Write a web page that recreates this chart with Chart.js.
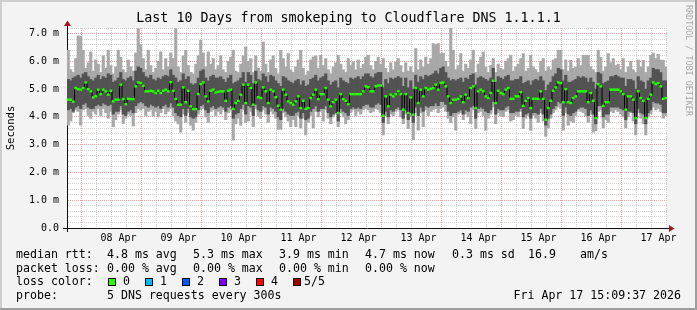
<!DOCTYPE html>
<html><head><meta charset="utf-8">
<script src="https://cdn.jsdelivr.net/npm/chart.js@4/dist/chart.umd.min.js"></script>
<style>html,body{margin:0;padding:0;background:#f3f3f3;overflow:hidden}canvas{display:block}</style>
</head><body>
<canvas id="c" width="697" height="310"></canvas>
<script>
const FONT = "'DejaVu Sans Mono', monospace";
const HOURS = 240;            // 10 days, one step per hour
const FIRST_MIDNIGHT = 8.6;   // hours from left edge to 08 Apr 00:00
const Y_MAX = 7.2;

const titleText = 'Last 10 Days from smokeping to Cloudflare DNS 1.1.1.1';
const dayLabels = ['08 Apr','09 Apr','10 Apr','11 Apr','12 Apr','13 Apr','14 Apr','15 Apr','16 Apr','17 Apr'];
const yLabels = ['0.0','1.0 m','2.0 m','3.0 m','4.0 m','5.0 m','6.0 m','7.0 m'];

const median = [
4.62,4.62,4.55,5.04,5.00,4.98,5.04,5.24,5.00,4.92,
4.70,4.75,4.98,4.82,4.98,4.92,4.80,4.94,4.56,4.62,
4.62,5.16,4.64,4.46,4.65,4.64,4.64,5.10,5.24,5.22,
5.12,4.92,4.92,4.94,4.92,4.86,4.94,4.86,4.94,4.98,
4.92,5.25,4.94,4.65,4.44,4.44,5.06,4.53,4.94,4.38,
4.28,4.28,4.82,5.18,5.24,4.74,4.56,4.94,4.98,4.88,
4.90,4.92,4.92,4.58,4.94,4.98,4.29,4.50,4.58,4.80,
5.16,4.50,5.16,5.04,4.44,5.24,4.71,4.68,5.06,4.92,
4.50,4.98,4.92,4.71,4.40,4.26,4.98,4.80,4.56,4.50,
4.44,4.56,4.74,4.32,4.58,4.29,4.32,4.68,4.80,4.98,
4.64,4.82,4.82,5.04,4.62,4.38,4.53,4.62,4.14,4.82,
4.64,4.58,4.46,4.82,4.82,4.82,4.82,4.82,4.92,5.10,
5.07,4.92,4.92,5.10,5.13,5.13,4.04,4.74,4.38,4.80,
4.74,4.82,4.92,4.82,4.26,4.82,4.14,4.70,4.08,5.04,
4.50,4.98,4.74,5.04,4.98,5.01,5.04,5.16,4.98,5.22,
5.24,5.10,4.74,4.50,4.62,4.62,4.65,4.74,4.53,4.80,
4.68,5.04,5.10,4.32,4.92,4.98,4.92,4.74,4.68,4.86,
5.30,4.50,4.94,4.86,4.82,4.98,5.04,4.65,4.65,4.74,
4.74,4.89,4.40,4.58,4.68,4.32,4.65,4.65,4.65,4.92,
4.65,3.90,4.32,4.58,4.94,5.06,5.24,5.22,4.53,5.00,
4.53,4.50,4.68,4.74,4.92,4.92,4.92,4.92,4.53,4.86,
4.58,3.96,5.18,5.10,4.40,4.53,4.53,4.98,4.98,4.98,
4.98,4.92,4.82,4.26,4.74,4.74,4.62,3.96,4.92,4.68,
4.58,3.96,4.65,4.80,5.24,5.18,5.22,5.10,4.65,4.68];

const ping4 = [
5.35,5.30,5.40,5.45,5.50,5.40,5.55,5.60,5.45,5.35,
5.30,5.40,5.50,5.35,5.45,5.40,5.55,5.50,5.25,5.30,
5.40,5.60,5.35,5.30,5.40,5.45,5.30,5.65,5.80,5.75,
5.60,5.45,5.40,5.50,5.35,5.30,5.40,5.35,5.45,5.50,
5.45,5.70,5.50,5.40,5.25,5.30,5.55,5.35,5.45,5.20,
5.15,5.20,5.40,5.65,5.70,5.40,5.30,5.45,5.50,5.40,
5.40,5.45,5.35,5.25,5.40,5.50,5.20,5.25,5.30,5.40,
5.60,5.25,5.60,5.50,5.20,5.65,5.35,5.30,5.55,5.45,
5.25,5.50,5.45,5.30,5.20,5.10,5.45,5.40,5.30,5.25,
5.20,5.30,5.35,5.15,5.30,5.10,5.15,5.35,5.40,5.50,
5.30,5.40,5.45,5.55,5.30,5.15,5.25,5.30,5.05,5.40,
5.30,5.25,5.20,5.40,5.35,5.40,5.45,5.35,5.45,5.55,
5.55,5.45,5.40,5.55,5.60,5.60,5.05,5.35,5.20,5.40,
5.35,5.40,5.45,5.40,5.10,5.40,5.05,5.30,5.00,5.50,
5.25,5.45,5.35,5.50,5.45,5.50,5.55,5.65,5.55,5.75,
5.80,5.60,5.40,5.30,5.35,5.30,5.35,5.40,5.25,5.40,
5.35,5.50,5.55,5.15,5.40,5.45,5.40,5.35,5.30,5.40,
5.75,5.25,5.45,5.40,5.35,5.45,5.50,5.30,5.30,5.35,
5.35,5.45,5.20,5.25,5.30,5.15,5.30,5.35,5.30,5.45,
5.30,4.95,5.15,5.25,5.45,5.55,5.75,5.70,5.30,5.50,
5.25,5.25,5.30,5.35,5.45,5.40,5.45,5.40,5.25,5.40,
5.25,5.00,5.60,5.55,5.20,5.25,5.30,5.45,5.45,5.50,
5.45,5.40,5.40,5.10,5.35,5.35,5.30,5.00,5.45,5.30,
5.25,5.00,5.30,5.40,5.75,5.70,5.70,5.60,5.30,5.30];

const ping2 = [
4.25,4.30,4.20,4.35,4.40,4.30,4.45,4.50,4.35,4.30,
4.30,4.40,4.45,4.40,4.50,4.45,4.40,4.45,4.10,4.20,
4.20,4.40,4.10,4.05,4.20,4.25,4.15,4.40,4.50,4.55,
4.50,4.40,4.35,4.45,4.40,4.35,4.40,4.30,4.40,4.45,
4.35,4.50,4.35,4.15,4.05,4.00,4.30,4.05,4.30,4.00,
3.95,4.00,4.25,4.40,4.45,4.25,4.15,4.35,4.40,4.30,
4.35,4.40,4.35,4.20,4.35,4.40,3.95,4.10,4.15,4.30,
4.45,4.10,4.40,4.35,4.05,4.45,4.25,4.20,4.40,4.35,
4.10,4.35,4.30,4.20,4.00,3.90,4.30,4.20,4.10,4.05,
4.05,4.15,4.20,3.95,4.15,3.90,3.95,4.20,4.30,4.40,
4.20,4.30,4.30,4.40,4.15,4.00,4.10,4.15,3.85,4.30,
4.20,4.15,4.05,4.30,4.35,4.30,4.35,4.30,4.40,4.45,
4.45,4.35,4.35,4.45,4.50,4.45,3.80,4.20,4.00,4.25,
4.20,4.30,4.35,4.25,3.95,4.25,3.90,4.15,3.80,4.35,
4.05,4.35,4.20,4.40,4.35,4.40,4.40,4.50,4.40,4.55,
4.55,4.45,4.20,4.05,4.15,4.15,4.20,4.25,4.10,4.25,
4.20,4.35,4.40,3.95,4.30,4.35,4.30,4.20,4.15,4.25,
4.55,4.10,4.30,4.25,4.25,4.35,4.40,4.15,4.15,4.20,
4.20,4.30,4.00,4.10,4.15,3.95,4.15,4.15,4.10,4.30,
4.10,3.70,3.95,4.10,4.30,4.40,4.55,4.50,4.05,4.35,
4.10,4.05,4.15,4.20,4.30,4.35,4.35,4.30,4.05,4.25,
4.10,3.75,4.40,4.40,4.00,4.10,4.10,4.35,4.35,4.35,
4.35,4.30,4.25,3.90,4.20,4.20,4.15,3.75,4.30,4.15,
4.10,3.75,4.15,4.25,4.55,4.50,4.50,4.45,4.15,4.15];

const pingMax = [
6.40,5.70,5.60,6.10,6.92,6.90,6.40,5.75,5.95,6.34,
5.65,6.05,5.90,5.60,6.20,5.75,6.40,5.85,5.55,5.80,
6.40,6.15,5.70,5.60,6.05,5.80,5.65,6.30,7.18,6.60,
6.10,5.70,6.40,5.85,5.60,5.75,6.00,6.34,5.70,6.10,
5.80,6.30,6.10,7.18,5.80,5.60,6.20,6.40,5.85,5.60,
5.55,5.90,6.20,6.76,6.30,5.80,6.34,5.90,6.10,5.70,
5.85,6.20,5.70,5.60,6.00,6.15,6.40,5.65,5.60,5.90,
6.20,6.52,6.00,6.10,5.60,6.20,5.75,5.65,6.70,5.90,
5.60,6.05,6.20,5.75,5.55,6.40,6.10,5.80,6.28,5.70,
5.60,5.80,6.05,6.40,5.75,5.50,5.65,6.05,6.16,6.20,
5.75,6.22,5.85,6.10,5.70,5.55,5.80,5.95,6.22,5.90,
5.70,5.60,6.10,5.85,5.98,5.70,6.05,5.75,5.90,6.15,
6.22,5.85,5.70,6.00,6.15,5.90,6.10,5.75,5.60,5.95,
5.70,5.98,6.10,5.85,5.60,5.95,5.65,5.80,5.60,6.46,
5.70,6.05,5.80,6.15,5.90,6.10,6.64,6.60,6.64,6.28,
6.30,6.00,5.80,7.19,6.40,5.70,5.85,6.28,5.65,5.90,
5.75,6.05,6.40,5.60,5.90,6.15,6.34,5.80,5.60,5.85,
6.10,5.60,5.90,5.75,5.70,6.00,6.10,6.22,5.65,5.80,
5.90,6.10,6.28,5.65,5.75,6.22,5.80,5.70,5.60,6.00,
6.10,5.65,5.80,5.70,6.05,6.10,6.40,6.40,5.70,6.05,
5.65,6.04,5.75,5.80,6.10,5.85,6.22,6.22,6.22,5.80,
5.70,5.60,6.40,6.15,5.65,5.80,6.28,5.95,6.10,5.85,
5.90,5.70,6.10,5.60,5.80,6.00,5.70,5.60,6.05,5.80,
6.04,5.60,5.80,6.22,6.30,6.10,6.25,6.05,6.04,5.80];

const pingMin = [
3.70,3.85,4.15,4.25,4.20,3.70,4.25,4.30,4.05,3.95,
4.20,4.10,4.30,4.05,4.30,4.15,3.95,4.20,3.65,3.90,
4.10,4.25,3.76,3.95,4.10,4.05,3.67,4.15,4.30,4.25,
4.30,4.05,4.20,4.25,4.05,4.20,4.00,4.15,4.30,4.10,
4.20,4.30,4.05,3.85,3.75,3.45,4.10,3.80,4.15,3.70,
3.52,3.80,4.10,4.25,4.30,4.00,3.80,4.20,4.25,4.05,
4.20,4.10,4.25,3.90,4.15,4.25,3.16,3.75,3.95,3.70,
4.25,3.80,3.85,4.20,3.65,4.30,4.05,3.95,4.25,4.10,
3.80,4.20,4.10,3.95,3.55,3.55,4.15,4.00,3.85,3.65,
3.90,3.65,4.05,3.60,3.95,3.35,3.80,4.05,3.60,4.20,
4.00,4.20,3.85,4.25,3.95,3.75,4.00,4.10,3.65,4.15,
4.00,3.75,3.90,4.15,4.25,4.05,4.20,4.10,4.25,4.30,
4.25,4.15,4.20,4.30,4.25,4.15,3.35,4.05,3.75,4.10,
4.05,4.20,4.25,4.00,3.75,4.10,3.58,4.00,3.17,4.15,
3.52,4.15,3.65,4.25,4.05,4.20,4.25,4.30,4.15,4.30,
4.35,4.20,3.95,3.80,4.00,3.52,4.10,4.15,3.90,4.10,
4.00,3.76,4.25,3.58,4.15,4.20,4.05,3.52,3.95,4.10,
4.35,3.75,4.15,4.05,4.00,4.20,4.25,3.85,3.90,4.05,
4.00,4.20,3.58,3.95,4.05,3.52,4.05,3.95,3.80,4.15,
3.85,3.30,3.60,3.95,4.15,4.25,4.35,4.30,3.52,4.15,
3.70,3.85,3.80,4.05,4.25,4.20,4.15,4.05,3.80,4.10,
3.45,3.50,4.20,4.25,3.60,3.90,3.80,4.20,4.15,4.25,
4.20,4.10,4.00,3.60,4.00,4.15,3.85,3.35,4.15,3.95,
3.75,3.35,4.00,4.10,4.35,4.25,4.30,4.20,3.95,4.05];

const rttLegend = ['median rtt:','4.8 ms avg','5.3 ms max','3.9 ms min','4.7 ms now','0.3 ms sd','16.9','am/s'];
const lossLegend = ['packet loss:','0.00 % avg','0.00 % max','0.00 % min','0.00 % now'];
const lossColorTitle = 'loss color:';
const lossColorLabels = ['0','1','2','3','4','5/5'];
const lossColors = ['#26ff00','#00b8ff','#0059ff','#7e00ff','#ff0000','#a10000'];
const probeLegend = ['probe:','5 DNS requests every 300s'];
const stampText = 'Fri Apr 17 15:09:37 2026';
const watermark = 'RRDTOOL / TOBI OETIKER';

// x positions of hourly steps (centre of each hour)
const steps = median.map((_, i) => i + 0.5);

function hourKind(v) {
  if (typeof v !== 'number') return 'none';
  const r = (((v - FIRST_MIDNIGHT) % 24) + 24) % 24;
  if (Math.min(r, 24 - r) < 1e-6) return 'midnight';
  if (Math.abs(r - 12) < 1e-6) return 'noon';
  return 'minor';
}
function isMajorY(v) { return typeof v === 'number' && Math.abs(v - Math.round(v)) < 1e-6; }
function tickVal(c) { return c && c.tick ? c.tick.value : undefined; }

const decor = {
  id: 'decor',
  beforeDraw(chart) {
    const c = chart.ctx, W = chart.width, H = chart.height, a = chart.chartArea;
    c.save();
    c.fillStyle = '#f3f3f3'; c.fillRect(0, 0, W, H);
    c.fillStyle = '#cecece'; c.fillRect(0, 0, W, 2); c.fillRect(0, 0, 2, H);
    c.fillStyle = '#9e9e9e'; c.fillRect(0, H - 2, W, 2); c.fillRect(W - 2, 0, 2, H);
    c.fillStyle = '#ffffff'; c.fillRect(a.left, a.top, a.right - a.left, a.bottom - a.top);
    c.restore();
  },
  afterDraw(chart) {
    const c = chart.ctx, a = chart.chartArea;
    const x0 = Math.round(a.left), y0 = Math.round(a.bottom), x1 = Math.round(a.right), yt = Math.round(a.top);
    c.save();
    c.fillStyle = '#101010';
    c.fillRect(x0 - 4, y0, 4, 1); c.fillRect(x1, y0, 4, 1);
    c.fillRect(x0, y0, 1, 4); c.fillRect(x0, yt - 4, 1, 4);
    c.fillStyle = '#9b1c1c';
    c.beginPath(); c.moveTo(x1 + 2, y0 - 3); c.lineTo(x1 + 2, y0 + 4); c.lineTo(x1 + 7.5, y0 + 0.5); c.closePath(); c.fill();
    c.beginPath(); c.moveTo(x0 - 3, yt - 2); c.lineTo(x0 + 4, yt - 2); c.lineTo(x0 + 0.5, yt - 7.5); c.closePath(); c.fill();
    c.fillStyle = '#000';
    c.textBaseline = 'middle';
    c.textAlign = 'center';
    c.font = '13.3px ' + FONT;
    c.fillText(titleText, 348.5, 19);
    c.save();
    c.fillStyle = '#a9a9a9';
    c.font = '8.4px ' + FONT;
    c.translate(688, 5);
    c.rotate(Math.PI / 2);
    c.textAlign = 'left';
    c.fillText(watermark, 0, 0);
    c.restore();
    c.font = '11.6px ' + FONT;
    c.textAlign = 'left';
    c.fillStyle = '#000';
    const rttX = [16, 107, 193, 279, 365, 452, 528, 580];
    rttLegend.forEach((t, i) => c.fillText(t, rttX[i], 255));
    const lossX = [16, 107, 193, 279, 365];
    lossLegend.forEach((t, i) => c.fillText(t, lossX[i], 268.5));
    c.fillText(lossColorTitle, 16, 282);
    const boxX = [108, 145, 182, 219, 256, 293];
    const labX = [123, 160, 197, 234, 271, 304];
    lossColorLabels.forEach((t, i) => {
      c.fillStyle = '#000'; c.fillRect(boxX[i], 278, 8, 8);
      c.fillStyle = lossColors[i]; c.fillRect(boxX[i] + 1, 279, 6, 6);
      c.fillStyle = '#000'; c.fillText(t, labX[i], 282);
    });
    c.fillText(probeLegend[0], 16, 296);
    c.fillText(probeLegend[1], 107, 296);
    c.textAlign = 'right';
    c.fillText(stampText, 681, 296);
    c.restore();
  }
};

const barCommon = { grouped: false, barPercentage: 1, categoryPercentage: 1, borderWidth: 0 };

new Chart(document.getElementById('c'), {
  type: 'bar',
  data: {
    datasets: [
      Object.assign({ label: 'min-max', order: 4, backgroundColor: '#a8a8a8',
        data: steps.map((x, i) => ({ x, y: [pingMin[i], pingMax[i]] })) }, barCommon),
      Object.assign({ label: 'ping2-ping4', order: 3, backgroundColor: '#525252',
        data: steps.map((x, i) => ({ x, y: [ping2[i], ping4[i]] })) }, barCommon),
      { type: 'line', label: 'median', order: 2, borderColor: '#000000', borderWidth: 1,
        pointRadius: 0, stepped: 'middle', fill: false,
        data: steps.map((x, i) => ({ x, y: median[i] })) },
      Object.assign({ label: 'median rtt', order: 1, backgroundColor: '#26ff00', inflateAmount: 0.2,
        data: steps.map((x, i) => ({ x, y: [median[i] - 0.036, median[i] + 0.036] })) }, barCommon)
    ]
  },
  options: {
    responsive: false, animation: false, devicePixelRatio: 1, events: [],
    layout: { padding: { left: 0, right: 30, top: 28, bottom: 0 } },
    plugins: { legend: { display: false }, tooltip: { enabled: false }, title: { display: false } },
    scales: {
      x: {
        type: 'linear', min: 0, max: HOURS, offset: false,
        afterBuildTicks: s => {
          const t = [];
          for (let k = 0; FIRST_MIDNIGHT - 6 + 6 * k <= HOURS; k++) {
            const v = FIRST_MIDNIGHT - 6 + 6 * k;
            if (v >= 0) t.push({ value: v });
          }
          s.ticks = t;
        },
        afterFit: s => { s.height = 82; },
        grid: { color: c => hourKind(tickVal(c)) === 'midnight' ? '#f2a2a2' : '#d2d2d2', lineWidth: 1, drawTicks: false },
        border: { display: true, color: '#101010', width: 1, dash: [1, 1] },
        ticks: {
          autoSkip: false, maxRotation: 0, minRotation: 0, padding: 4, color: '#000',
          font: { family: FONT, size: 9.97 },
          callback: v => hourKind(v) === 'noon' ? (dayLabels[Math.round((v - FIRST_MIDNIGHT - 12) / 24)] || '') : ''
        }
      },
      y: {
        type: 'linear', min: 0, max: Y_MAX,
        afterBuildTicks: s => {
          const t = [];
          for (let k = 0; k <= 36; k++) t.push({ value: Math.round(k * 2) / 10 });
          s.ticks = t;
        },
        afterFit: s => { s.width = 67; },
        grid: { color: c => isMajorY(tickVal(c)) ? '#f2a2a2' : '#d2d2d2', lineWidth: 1, drawTicks: false },
        border: { display: true, color: '#101010', width: 1, dash: [1, 1] },
        ticks: {
          autoSkip: false, padding: 8, color: '#000',
          font: { family: FONT, size: 9.97 },
          callback: v => isMajorY(v) ? (yLabels[Math.round(v)] || '') : ''
        },
        title: { display: true, text: 'Seconds', color: '#000', font: { family: FONT, size: 10.6 }, padding: { top: 4.4, bottom: 0 } }
      }
    }
  },
  plugins: [decor]
});
</script>
</body></html>
